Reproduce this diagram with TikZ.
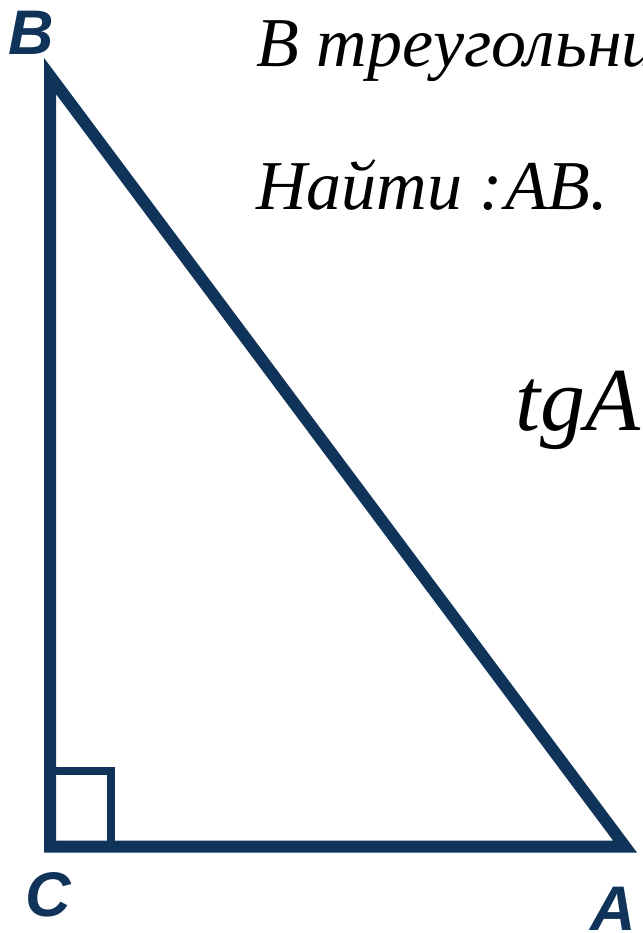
\documentclass[tikz,border=0pt]{standalone}
\usepackage{fontspec}
\setmainfont{Liberation Serif}
\newfontfamily\labfont{Liberation Sans}
\definecolor{navy}{RGB}{16,52,89}
\begin{document}
\begin{tikzpicture}[x=1pt,y=-1pt,
  vlabel/.style={inner sep=0pt,anchor=base west,text=navy,font=\labfont\bfseries\itshape\fontsize{63}{63}\selectfont},
  txt/.style={inner sep=0pt,anchor=base west,text=black,font=\itshape\fontsize{70}{70}\selectfont},
  bigtxt/.style={inner sep=0pt,anchor=base west,text=black,font=\itshape\fontsize{90}{90}\selectfont},
  side/.style={draw=navy,line width=12pt,miter limit=20},
  rmark/.style={draw=navy,line width=8pt}]
\useasboundingbox (0,0) rectangle (642,933);
\fill[white] (0,0) rectangle (642,933);
\coordinate (B) at (50,76);
\coordinate (C) at (50,846.5);
\coordinate (A) at (625,846.5);
\coordinate (R1) at (50,771);
\coordinate (R2) at (111,771);
\coordinate (R3) at (111,846.5);
\draw[rmark] (R1) -- (R2) -- (R3);
\draw[side] (B) -- (C) -- (A) -- cycle;
\node[vlabel] (lB) at (8,55) {B};
\node[vlabel] (lC) at (25,916) {C};
\node[vlabel] (lA) at (590,930) {A};
\node[txt] (t1) at (256,67) {В треугольни};
\node[txt] (t2) at (256,210) {Найти :\hspace{2pt}AB.};
\node[bigtxt] (t3) at (515,430) {tgA};
\end{tikzpicture}
\end{document}
